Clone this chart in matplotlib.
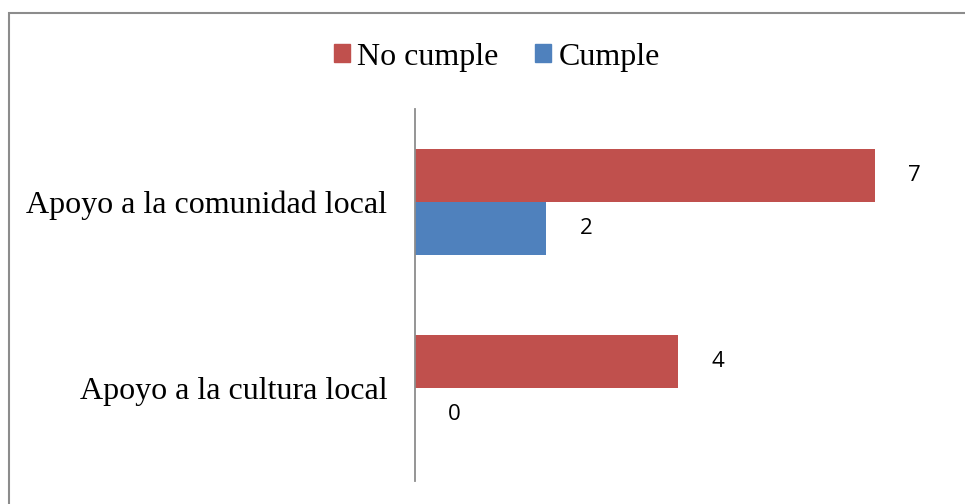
import matplotlib
matplotlib.use("Agg")
import matplotlib.pyplot as plt
from matplotlib.patches import Rectangle, Patch
import numpy as np

categories = ["Apoyo a la cultura local", "Apoyo a la comunidad local"]
no_cumple = [4, 7]
cumple = [0, 2]
series_names = ["No cumple", "Cumple"]

RED = "#C0504D"
BLUE = "#4F81BD"
GRAY = "#8C8C8C"

W, H = 965, 504
fig = plt.figure(figsize=(W / 100, H / 100), dpi=100)

# outer frame of the chart area (extends past right and bottom edges)
fig.patches.append(Rectangle((9 / W, -0.1), 1.2, 1 - 13 / H + 0.1,
                             transform=fig.transFigure, fill=False,
                             edgecolor=GRAY, linewidth=1.5, zorder=0))

ax_left, ax_right = 415, 415 + 8 * 65.7
ax_top, ax_bottom = 109, 481
ax = fig.add_axes([ax_left / W, 1 - ax_bottom / H,
                   (ax_right - ax_left) / W, (ax_bottom - ax_top) / H])

y = np.arange(len(categories))
bh = 0.285
bars_red = ax.barh(y + bh / 2, no_cumple, height=bh, color=RED, label=series_names[0])
bars_blue = ax.barh(y - bh / 2, cumple, height=bh, color=BLUE, label=series_names[1])

ax.set_xlim(0, 8)
ax.set_ylim(-0.5, 1.5)
ax.set_yticks(y)
ax.set_yticklabels(categories, fontfamily="Liberation Serif", fontsize=23)
ax.tick_params(axis="y", length=0, pad=20)
ax.set_xticks([])
for s in ("top", "right", "bottom"):
    ax.spines[s].set_visible(False)
ax.spines["left"].set_color(GRAY)
ax.spines["left"].set_linewidth(1.3)

for bars, vals in ((bars_red, no_cumple), (bars_blue, cumple)):
    for b, v in zip(bars, vals):
        ax.annotate(str(v), xy=(v, b.get_y() + b.get_height() / 2),
                    xytext=(28.5, 0), textcoords="offset points",
                    ha="center", va="center", fontfamily="Open Sans",
                    fontsize=16, color="black")

handles = [Patch(color=RED), Patch(color=BLUE)]
fig.legend(handles, series_names, loc="center", ncol=2,
           bbox_to_anchor=(497 / W, 1 - 57 / H), frameon=False,
           prop={"family": "Liberation Serif", "size": 23},
           handlelength=0.5, handleheight=0.5, handletextpad=0.22,
           columnspacing=1.15, borderaxespad=0, borderpad=0)

fig.savefig("out.png", dpi=100)
